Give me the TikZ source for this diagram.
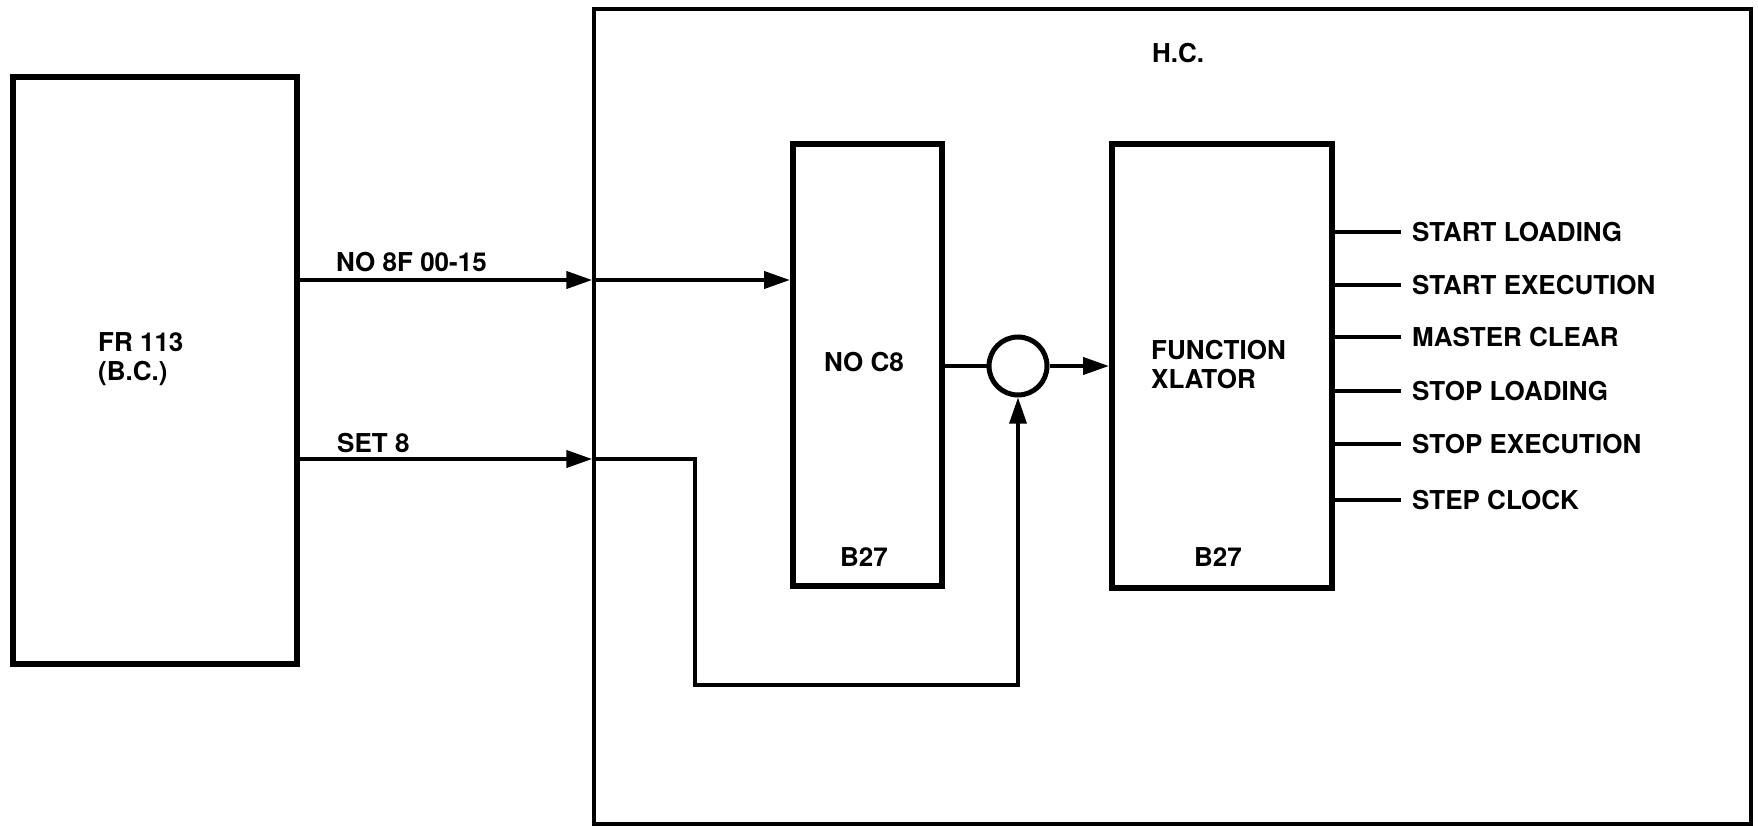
\documentclass[tikz,border=0pt]{standalone}
\usepackage{fontspec}
\setmainfont{TeX Gyre Heros}
\usetikzlibrary{arrows.meta}
\begin{document}
\begin{tikzpicture}[x=1pt,y=-1pt,
  box/.style={draw, line width=6pt, rectangle, inner sep=0pt},
  outer/.style={draw, line width=3.5pt, rectangle, inner sep=0pt},
  lbl/.style={font=\fontsize{26}{29}\selectfont\bfseries, inner sep=0pt, text height=0.72em, text depth=0pt},
  wire/.style={line width=4pt},
  thinwire/.style={line width=3.2pt},
  tip/.style={-{Triangle[length=26pt,width=17pt]}}
]
\useasboundingbox (0,0) rectangle (1758,826);
% boxes
\node[outer, minimum width=1157pt, minimum height=815pt] (HC) at (1172.5,416.5) {};
\node[box, minimum width=284pt, minimum height=587pt] (FR) at (155,370.5) {};
\node[box, minimum width=149pt, minimum height=442pt] (NOC) at (867.5,365) {};
\node[box, minimum width=220pt, minimum height=444pt] (FX) at (1222,366) {};
\node[draw, circle, line width=5pt, minimum size=58pt, inner sep=0pt] (OR) at (1018,366) {};
% texts
\node[lbl] (hct) at (1178,59) {H.C.};
\node[lbl, align=left, anchor=west] (frt) at (98,377) {FR 113\\(B.C.)};
\node[lbl, anchor=west] (no8f) at (336,268) {NO 8F 00-15};
\node[lbl, anchor=west] (set8) at (337,449) {SET 8};
\node[lbl] (noct) at (864,368) {NO C8};
\node[lbl] (b27a) at (864,563) {B27};
\node[lbl, align=left, anchor=west] (fxt) at (1151,385) {FUNCTION\\XLATOR};
\node[lbl] (b27b) at (1218,563) {B27};
% coordinates
\coordinate (a0) at (FR.east |- 0,280);
\coordinate (a1) at (HC.west |- 0,280);
\coordinate (a2) at (NOC.west |- 0,280);
\coordinate (s0) at (FR.east |- 0,459);
\coordinate (s1) at (HC.west |- 0,459);
\coordinate (s2) at (695,459);
\coordinate (s3) at (695,685);
\coordinate (s4) at (OR.south |- 0,685);
% connectors
\draw[wire, tip] (a0) -- (a1);
\draw[wire, tip] (a1) -- (a2);
\draw[wire, tip] (s0) -- (s1);
\draw[thinwire, tip] (s1) -- (s2) -- (s3) -- (s4) -- (OR.south);
\draw[wire] (NOC.east |- OR.west) -- (OR.west);
\draw[wire, tip] (OR.east) -- (FX.west |- OR.east);
% outputs
\foreach \y/\t/\n in {232/START LOADING/o1, 285/START EXECUTION/o2, 337/MASTER CLEAR/o3, 391/STOP LOADING/o4, 444/STOP EXECUTION/o5, 500/STEP CLOCK/o6}{
  \node[lbl, anchor=west] (\n) at (1412,\y+6) {\t};
  \draw[wire] (FX.east |- 0,\y) -- (1401,\y);
}
\end{tikzpicture}
\end{document}
